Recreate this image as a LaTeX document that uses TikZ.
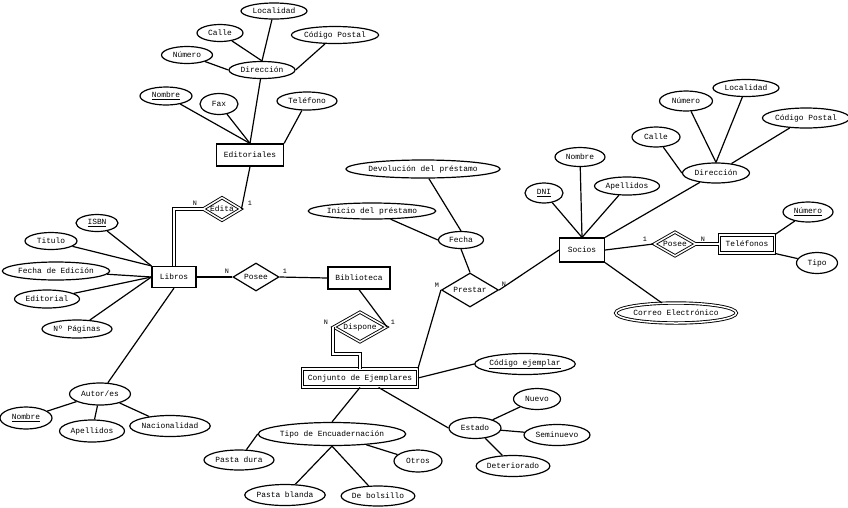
\documentclass[tikz,border=0pt]{standalone}
\usepackage{fontspec}
\setmainfont{Liberation Mono}
\usetikzlibrary{shapes.geometric}
\begin{document}
\begin{tikzpicture}[x=1pt,y=-1pt,
  every node/.style={font=\fontsize{7.9}{9}\selectfont, inner sep=0pt},
  att/.style 2 args={draw, ellipse, line width=1.2pt, minimum width=#1, minimum height=#2},
  datt/.style 2 args={draw, ellipse, double, double distance=1.5pt, line width=0.9pt, minimum width=#1, minimum height=#2},
  ent/.style 2 args={draw, rectangle, line width=1.2pt, minimum width=#1, minimum height=#2},
  went/.style 2 args={draw, rectangle, double, double distance=1.5pt, line width=0.9pt, minimum width=#1, minimum height=#2},
  rel/.style 2 args={draw, diamond, aspect=1.7, line width=1.2pt, minimum width=#1, minimum height=#2},
  wrel/.style 2 args={draw, diamond, aspect=1.7, double, double distance=1.5pt, line width=0.9pt, minimum width=#1, minimum height=#2},
  card/.style={font=\fontsize{6.8}{7}\selectfont},
  link/.style={line width=1.2pt},
  dlink/.style={double, double distance=1.5pt, line width=0.9pt}]
\useasboundingbox (0,0) rectangle (848,507);

% ---------- Editoriales ----------
\node[ent={67}{22}] (edit) at (250,155) {Editoriales};
\node[att={66}{17}] (edDir) at (262,70) {Dirección};
\node[att={66}{16}] (edLoc) at (274,11) {Localidad};
\node[att={46}{17}] (edCal) at (220,33) {Calle};
\node[att={84}{17}] (edCP) at (335,35) {Código Postal};
\node[att={51}{17}] (edNum) at (187,55) {Número};
\node[att={52}{18}] (edNom) at (166,96) {\underline{Nombre}};
\node[att={38}{21}] (edFax) at (219,104) {Fax};
\node[att={60}{18}] (edTel) at (307,101) {Teléfono};

\draw[link] (edLoc) -- (edDir.north);
\draw[link] (edCal) -- (edDir.north);
\draw[link] (edNum) -- (edDir.west);
\draw[link] (edCP) -- (edDir.east);
\draw[link] (edDir) -- (edit.north);
\draw[link] (edNom) -- (edit.north);
\draw[link] (edFax) -- (edit.north);
\draw[link] (edTel) -- (edit.north east);

% ---------- Libros ----------
\node[ent={44}{21}] (lib) at (174,277) {Libros};
\node[att={42}{17}] (lbIsbn) at (97,223) {\underline{ISBN}};
\node[att={52}{17}] (lbTit) at (51,241) {Titulo};
\node[att={97}{18}] (lbFec) at (56,271) {Fecha de Edición};
\node[att={65}{18}] (lbEdi) at (47,299) {Editorial};
\node[att={70}{18}] (lbPag) at (77,329) {Nº Páginas};
\draw[link] (lbIsbn) -- (lib.north west);
\draw[link] (lbTit) -- (lib.north west);
\draw[link] (lbFec) -- (lib.west);
\draw[link] (lbEdi) -- (lib.west);
\draw[link] (lbPag) -- (lib.west);

% Edita
\node[wrel={38}{23}] (edita) at (222,209) {Edita};
\draw[dlink] (lib.north) |- (edita.west);
\draw[link] (edit.south) -- (edita.east);
\node[card] (cEdN) at (195,203) {N};
\node[card] (cEd1) at (250,203) {1};

% Autor/es
\node[att={61}{22}] (aut) at (100,394) {Autor/es};
\node[att={52}{22}] (auNom) at (26,418) {\underline{Nombre}};
\node[att={65}{22}] (auApe) at (92,431) {Apellidos};
\node[att={79}{21}] (auNac) at (170,426) {Nacionalidad};
\draw[link] (lib.south) -- (aut);
\draw[link] (aut) -- (auNom);
\draw[link] (aut) -- (auApe);
\draw[link] (aut) -- (auNac);

% ---------- Biblioteca ----------
\node[rel={46}{28}] (posee) at (256,277) {Posee};
\node[ent={62}{22}] (bib) at (359,278) {Biblioteca};
\draw[link] (lib.east) -- (posee.west);
\draw[link] (posee.east) -- (bib.west);
\node[card] (cPoN) at (227,271) {N};
\node[card] (cPo1) at (285,271) {1};

\node[wrel={53}{30}] (disp) at (360,327) {Dispone};
\draw[link] (bib.south) -- (disp.east);
\node[card] (cDi1) at (393,322) {1};
\node[card] (cDiN) at (326,322) {N};

% ---------- Conjunto de Ejemplares ----------
\node[went={115}{18}] (conj) at (360,378) {Conjunto de Ejemplares};
\coordinate (dk) at (346,354);
\draw[dlink] (disp.west) |- (dk) -| (conj.north);

\node[att={93}{21}] (cod) at (525,364) {\underline{Código ejemplar}};
\draw[link] (conj.east) -- (cod.west);

\node[att={123}{23}] (enc) at (332,434) {Tipo de Encuadernación};
\node[att={70}{20}] (pDura) at (239,460) {Pasta dura};
\node[att={70}{21}] (pBlanda) at (285,495) {Pasta blanda};
\node[att={72}{20}] (pBols) at (378,496) {De bolsillo};
\node[att={48}{22}] (pOtros) at (418,461) {Otros};
\draw[link] (conj.south) -- (enc.north);
\draw[link] (enc.west) -- (pDura);
\draw[link] (enc.south) -- (pBlanda);
\draw[link] (enc.south) -- (pBols);
\draw[link] (enc) -- (pOtros);

\node[att={52}{21}] (est) at (475,428) {Estado};
\node[att={47}{21}] (eNue) at (537,399) {Nuevo};
\node[att={66}{21}] (eSem) at (557,435) {Seminuevo};
\node[att={73}{21}] (eDet) at (513,466) {Deteriorado};
\draw[link] (conj.-27) -- (est.west);
\draw[link] (est) -- (eNue);
\draw[link] (est) -- (eSem);
\draw[link] (est) -- (eDet);

% ---------- Prestar ----------
\node[rel={57}{34}] (prest) at (470,290) {Prestar};
\node[att={45}{17}] (fecha) at (461,240) {Fecha};
\node[att={111}{16}] (ini) at (372,211) {Inicio del préstamo};
\node[att={128}{18}] (dev) at (423,169) {Devolución del préstamo};
\draw[link] (fecha.south) -- (prest.north);
\draw[link] (ini) -- (fecha.west);
\draw[link] (dev) -- (fecha.north);
\draw[link] (prest.west) -- (conj.north east);
\node[card] (cPrM) at (437,285) {M};
\node[card] (cPrN) at (504,284) {N};

% ---------- Socios ----------
\node[ent={45}{24}] (soc) at (582,250) {Socios};
\draw[link] (prest.east) -- (soc.west);
\node[att={38}{20}] (sDni) at (544,193) {\underline{DNI}};
\node[att={50}{19}] (sNom) at (580,157) {Nombre};
\node[att={65}{18}] (sApe) at (627,186) {Apellidos};
\draw[link] (sDni) -- (soc.north);
\draw[link] (sNom) -- (soc.north);
\draw[link] (sApe) -- (soc.north);

\node[att={67}{20}] (sDir) at (716,173) {Dirección};
\node[att={48}{20}] (sCal) at (656,137) {Calle};
\node[att={53}{20}] (sNum) at (686,101) {Número};
\node[att={66}{17}] (sLoc) at (746,88) {Localidad};
\node[att={84}{20}] (sCP) at (806,118) {Código Postal};
\draw[link] (soc.north east) -- (sDir);
\draw[link] (sCal) -- (sDir.west);
\draw[link] (sNum) -- (sDir.north);
\draw[link] (sLoc) -- (sDir.north);
\draw[link] (sCP) -- (sDir);

\node[datt={105}{20}] (sCor) at (676,313) {Correo Electrónico};
\draw[link] (soc.south east) -- (sCor);

\node[wrel={42}{24}] (posee2) at (675,244) {Posee};
\node[went={55}{18}] (tel) at (747,244) {Teléfonos};
\draw[link] (soc.east) -- (posee2.west);
\draw[dlink] (posee2.east) -- (tel.west);
\node[card] (cP21) at (645,239) {1};
\node[card] (cP2N) at (703,239) {N};

\node[att={50}{20}] (tNum) at (808,212) {\underline{Número}};
\node[att={41}{21}] (tTipo) at (817,263) {Tipo};
\draw[link] (tel.north east) -- (tNum);
\draw[link] (tel.south east) -- (tTipo);
\end{tikzpicture}
\end{document}
